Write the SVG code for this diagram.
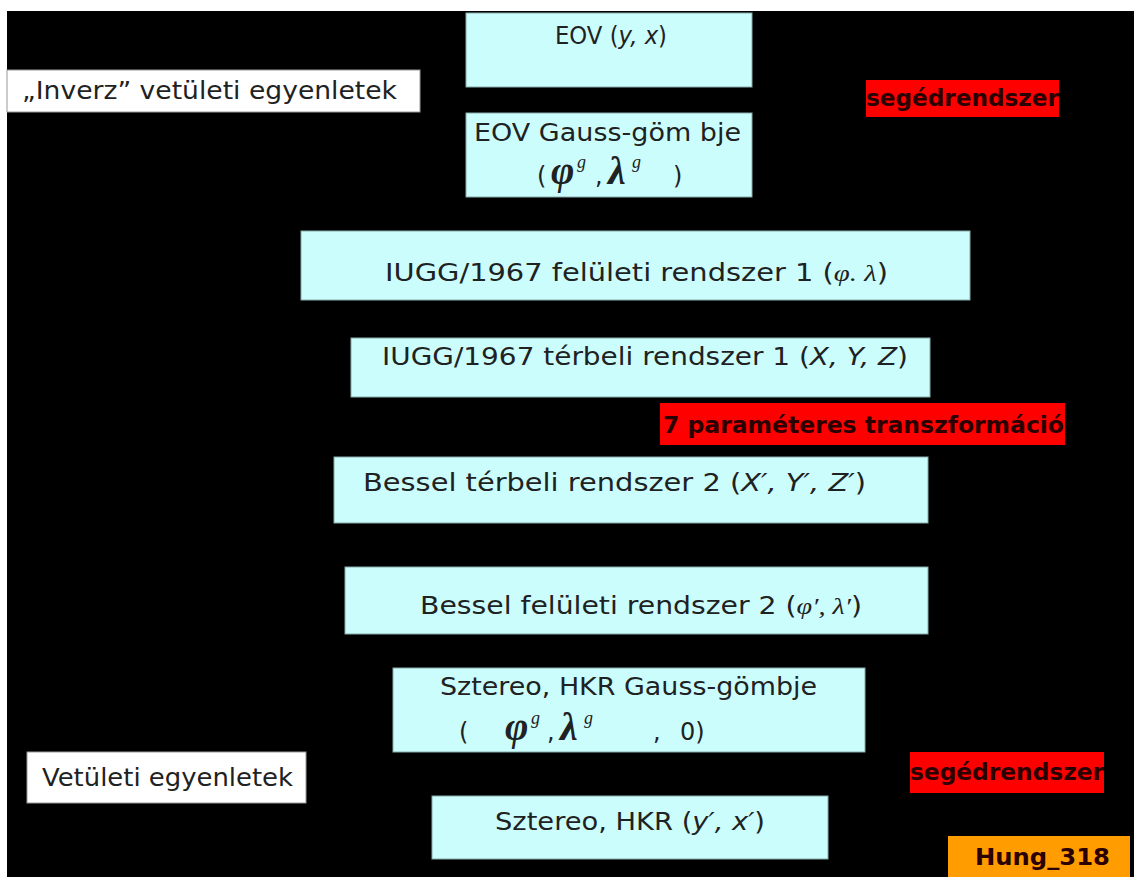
<svg xmlns="http://www.w3.org/2000/svg" width="1134" height="877" viewBox="0 0 1134 877">
<style>
.bx{fill:#ccfdfd;stroke:#8aa;stroke-width:1}
.wb{fill:#ffffff;stroke:#999;stroke-width:1}
.rd{fill:#ff0000}
.t{font-family:"DejaVu Sans","Liberation Sans",sans-serif;font-size:24px;fill:#1e2222}
.r{font-family:"DejaVu Sans","Liberation Sans",sans-serif;font-size:23px;font-weight:bold;fill:#2a0000}
.m{font-family:"Liberation Serif",serif;font-style:italic}
.mb{font-family:"Liberation Serif",serif;font-style:italic;font-weight:bold;font-size:40px}
.i{font-style:italic}
.sup{font-family:"Liberation Serif",serif;font-style:italic;font-size:18px}
</style>
<rect x="0" y="0" width="1134" height="877" fill="#ffffff"/>
<rect x="7" y="11" width="1127" height="866" fill="#000000"/>
<g id="connectors"></g>
<g id="eov">
<rect class="bx" x="466" y="13" width="286" height="74"/>
<text class="t" x="555" y="44" textLength="112" lengthAdjust="spacingAndGlyphs">EOV (<tspan class="i">y, x</tspan>)</text>
</g>
<g id="inverz">
<rect class="wb" x="7" y="70" width="413" height="42"/>
<text class="t" x="22" y="99" textLength="375" lengthAdjust="spacingAndGlyphs">„Inverz” vetületi egyenletek</text>
</g>
<g id="seged1">
<rect class="rd" x="866" y="80" width="193" height="37"/>
<text class="r" x="866" y="106" textLength="193" lengthAdjust="spacingAndGlyphs">segédrendszer</text>
</g>
<g id="eov-gauss">
<rect class="bx" x="466" y="113" width="286" height="84"/>
<text class="t" x="474" y="141" textLength="267" lengthAdjust="spacingAndGlyphs">EOV Gauss-göm bje</text>
<text class="t" font-size="28" y="184"><tspan x="537">(</tspan><tspan class="mb" x="551">φ</tspan><tspan class="sup" x="577" y="168">g</tspan><tspan x="595" y="184">,</tspan><tspan class="mb" x="608">λ</tspan><tspan class="sup" x="632" y="168">g</tspan><tspan x="673" y="184">)</tspan></text>
</g>
<g id="iugg-fel">
<rect class="bx" x="301" y="231" width="669" height="69"/>
<text class="t" x="385" y="281" textLength="503" lengthAdjust="spacingAndGlyphs">IUGG/1967 felületi rendszer 1 (<tspan class="m">φ. λ</tspan>)</text>
</g>
<g id="iugg-ter">
<rect class="bx" x="351" y="338" width="579" height="59"/>
<text class="t" x="382" y="365" textLength="526" lengthAdjust="spacingAndGlyphs">IUGG/1967 térbeli rendszer 1 (<tspan class="i">X, Y, Z</tspan>)</text>
</g>
<g id="param7">
<rect class="rd" x="660" y="403" width="405" height="42"/>
<text class="r" x="663" y="433" textLength="401" lengthAdjust="spacingAndGlyphs" font-size="25">7 paraméteres transzformáció</text>
</g>
<g id="bessel-ter">
<rect class="bx" x="334" y="457" width="594" height="66"/>
<text class="t" x="363" y="491" textLength="503" lengthAdjust="spacingAndGlyphs">Bessel térbeli rendszer 2 (<tspan class="i">X′, Y′, Z′</tspan>)</text>
</g>
<g id="bessel-fel">
<rect class="bx" x="345" y="567" width="583" height="67"/>
<text class="t" x="420" y="614" textLength="442" lengthAdjust="spacingAndGlyphs">Bessel felületi rendszer 2 (<tspan class="m">φ′, λ′</tspan>)</text>
</g>
<g id="sztereo-gauss">
<rect class="bx" x="393" y="668" width="472" height="84"/>
<text class="t" x="440" y="695" textLength="377" lengthAdjust="spacingAndGlyphs">Sztereo, HKR Gauss-gömbje</text>
<text class="t" font-size="28" y="740"><tspan x="459">(</tspan><tspan class="mb" x="505">φ</tspan><tspan class="sup" x="531" y="724">g</tspan><tspan x="547" y="740">,</tspan><tspan class="mb" x="560">λ</tspan><tspan class="sup" x="584" y="724">g</tspan><tspan x="653" y="740">,</tspan><tspan x="680">0)</tspan></text>
</g>
<g id="vetuleti">
<rect class="wb" x="27" y="752" width="279" height="51"/>
<text class="t" x="42" y="786" textLength="251" lengthAdjust="spacingAndGlyphs">Vetületi egyenletek</text>
</g>
<g id="seged2">
<rect class="rd" x="910" y="752" width="194" height="41"/>
<text class="r" x="910" y="780" textLength="194" lengthAdjust="spacingAndGlyphs">segédrendszer</text>
</g>
<g id="sztereo">
<rect class="bx" x="432" y="796" width="396" height="63"/>
<text class="t" x="495" y="830" textLength="270" lengthAdjust="spacingAndGlyphs">Sztereo, HKR (<tspan class="i">y′, x′</tspan>)</text>
</g>
<g id="hung">
<rect x="948" y="836" width="182" height="41" fill="#ff9c00"/>
<text class="r" x="975" y="865" textLength="135" lengthAdjust="spacingAndGlyphs" fill="#2a1a00">Hung_318</text>
</g>
</svg>
